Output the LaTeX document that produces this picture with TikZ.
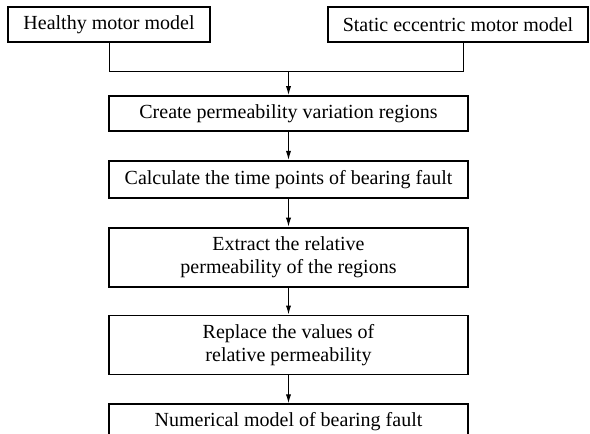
\documentclass[tikz,border=0pt]{standalone}
\usepackage{fontspec}
\setmainfont{Liberation Serif}
\usetikzlibrary{positioning, arrows.meta}

\begin{document}
\begin{tikzpicture}[x=1pt, y=1pt, node distance=14pt,
	box/.style={draw, line width=0.9pt, minimum width=179.5pt, minimum height=17.5pt,
		inner sep=2pt, align=center, font=\fontsize{10}{11.5}\selectfont},
	tall/.style={minimum height=29.5pt},
	link/.style={line width=0.5pt},
	flow/.style={link, -{Latex[length=4.5pt, width=2.6pt]}}]
	\useasboundingbox (0,0) rectangle (295,-217);
	
	\node[box, minimum width=101pt] (healthy) at (54.5,-12.25) {Healthy motor model};
	\node[box, minimum width=130pt] (static) at (229,-12.25) {Static eccentric motor model};
	
	\node[box] (create) at (144.25,-56.75) {Create permeability variation regions};
	\node[box, below=of create, minimum height=18.5pt] (calc) {Calculate the time points of bearing fault};
	\node[box, tall, below=of calc] (extract) {Extract the relative\\permeability of the regions};
	\node[box, tall, below=13.5pt of extract] (replace) {Replace the values of\\relative permeability};
	\node[box, below=of replace] (numerical) {Numerical model of bearing fault};
	
	% merge of the two models
	\coordinate (merge) at (144.25,-35.5);
	\coordinate (sdrop) at (231.5,-35.5);
	\draw[link] (healthy.south) |- (sdrop) -- (sdrop |- static.south);
	\draw[flow] (merge) -- (create);
	
	\draw[flow] (create) -- (calc);
	\draw[flow] (calc) -- (extract);
	\draw[flow] (extract) -- (replace);
	\draw[flow] (replace) -- (numerical);
\end{tikzpicture}
\end{document}
